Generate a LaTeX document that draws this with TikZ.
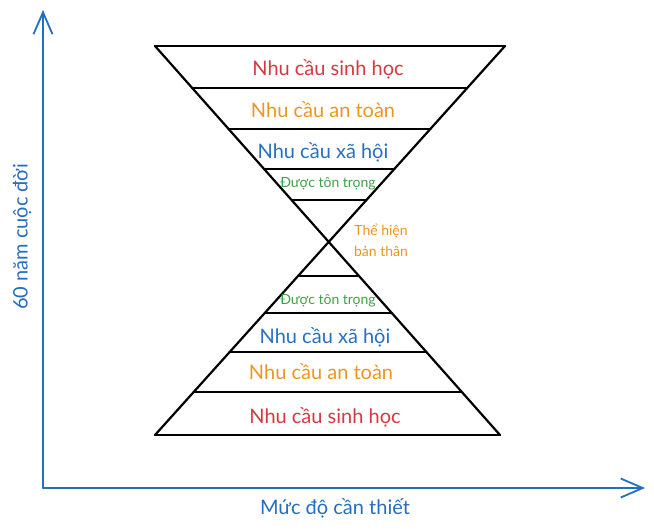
\documentclass[tikz,border=0pt]{standalone}
\usepackage{fontspec}
\setmainfont{Lato}
\usetikzlibrary{arrows.meta,calc}
\definecolor{needred}{RGB}{214,56,66}
\definecolor{needorange}{RGB}{236,150,30}
\definecolor{needblue}{RGB}{40,112,190}
\definecolor{needgreen}{RGB}{64,160,72}
\definecolor{axisblue}{RGB}{36,110,192}
\begin{document}
\begin{tikzpicture}[x=1pt, y=-1pt, line join=round, line cap=round,
    bar/.style={line width=2.2pt},
    axis/.style={line width=1.8pt, axisblue,
        -{Straight Barb[length=22pt, width=19pt, line width=1.8pt]}},
    lbl/.style={font=\fontsize{20}{24}\selectfont},
    smalllbl/.style={font=\fontsize{14}{21}\selectfont, align=center}]
    \useasboundingbox (0,0) rectangle (654,531);

    % Axes
    \coordinate (origin) at (43,488);
    \coordinate (ytip) at (43,10);
    \coordinate (xtip) at (645,488);
    \draw[axis] (origin) -- (ytip);
    \draw[axis] (origin) -- (xtip);
    \node[lbl, axisblue, rotate=90] (ylabel) at (22,237) {60 năm cuộc đời};
    \node[lbl, axisblue] (xlabel) at (335,508) {Mức độ cần thiết};

    % Hourglass corners
    \coordinate (tl) at (155,46);
    \coordinate (tr) at (505,46);
    \coordinate (bl) at (155,435);
    \coordinate (br) at (500,435);
    \draw[bar] (tl) -- (br);
    \draw[bar] (tr) -- (bl);
    \draw[bar] (tl) -- (tr);
    \draw[bar] (bl) -- (br);

    % Level bars (fraction of the height)
    \foreach \t in {0.108, 0.213, 0.316, 0.396, 0.591, 0.686, 0.787, 0.889}
        \draw[bar] ($(tl)!\t!(br)$) -- ($(tr)!\t!(bl)$);

    % Upper labels
    \node[lbl, needred] (bio1) at (328,69) {Nhu cầu sinh học};
    \node[lbl, needorange] (safe1) at (323,110) {Nhu cầu an toàn};
    \node[lbl, needblue] (soc1) at (323,152) {Nhu cầu xã hội};
    \node[smalllbl, needgreen] (est1) at (328,184) {Được tôn trọng};

    % Middle label
    \node[smalllbl, needorange] (self) at (381,240) {Thể hiện\\bản thân};

    % Lower labels
    \node[smalllbl, needgreen] (est2) at (328,301) {Được tôn trọng};
    \node[lbl, needblue] (soc2) at (325,337) {Nhu cầu xã hội};
    \node[lbl, needorange] (safe2) at (321,372) {Nhu cầu an toàn};
    \node[lbl, needred] (bio2) at (325,417) {Nhu cầu sinh học};
\end{tikzpicture}
\end{document}
